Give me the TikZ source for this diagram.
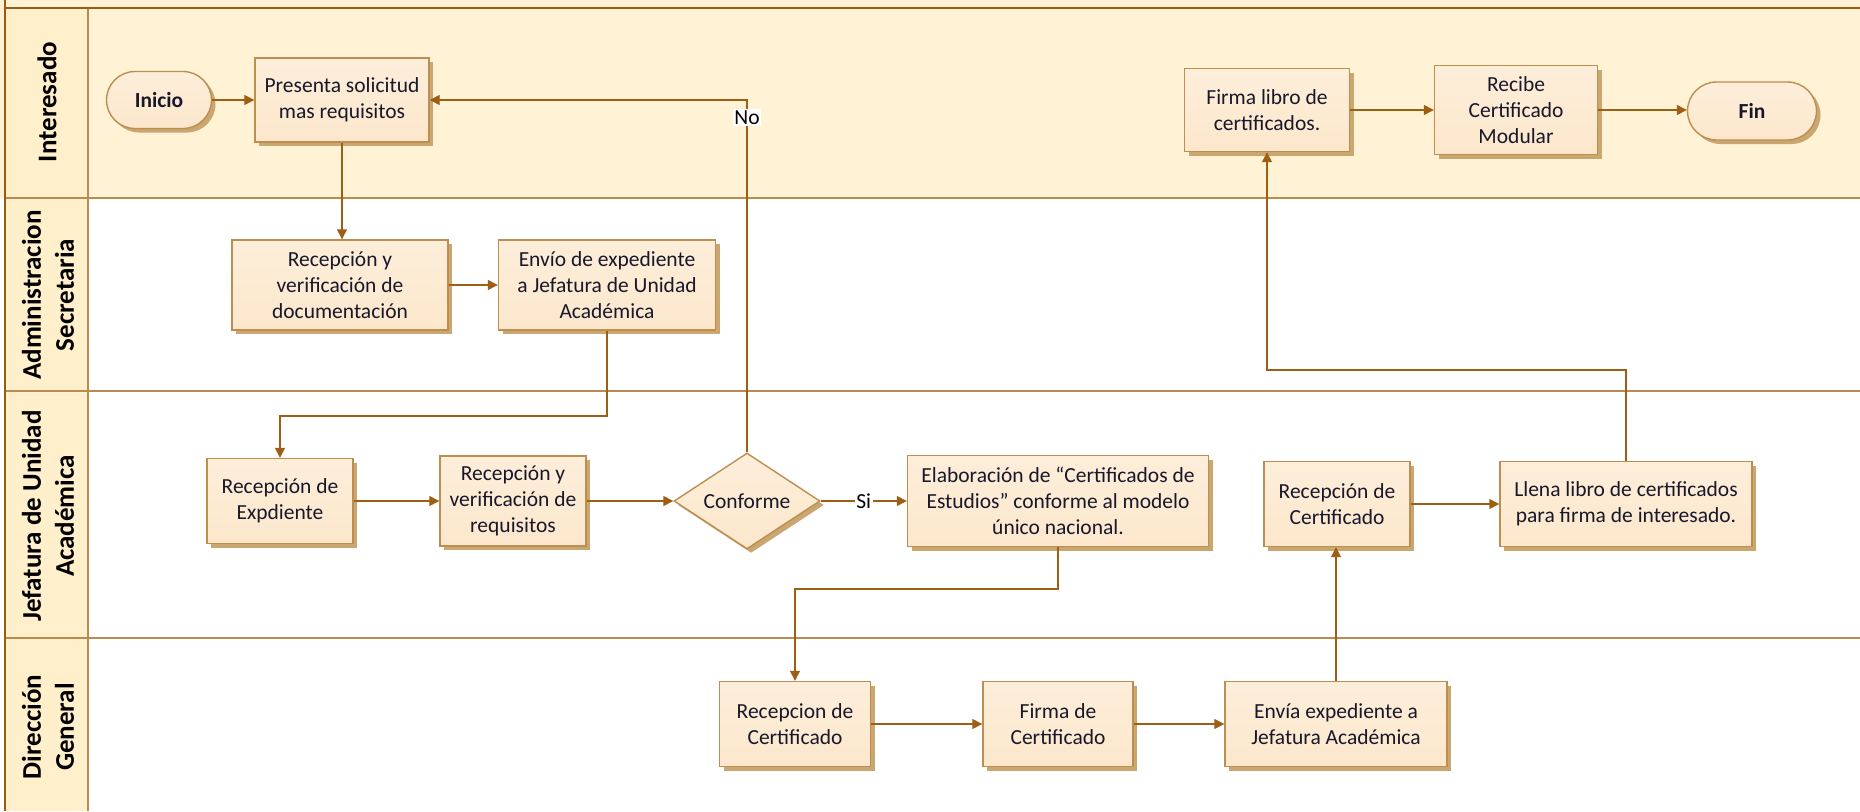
\documentclass[tikz,border=0pt]{standalone}
\usepackage{fontspec}
\setmainfont{Carlito}
\usetikzlibrary{arrows.meta,shapes.geometric,shapes.misc,shadows}
\definecolor{lanefill}{HTML}{FFF2D5}
\definecolor{headfill}{HTML}{FFEFCA}
\definecolor{laneline}{HTML}{BA8B50}
\definecolor{topline}{HTML}{9C5B12}
\definecolor{boxtop}{HTML}{FDEEDA}
\definecolor{boxbot}{HTML}{FCE7CC}
\definecolor{boxline}{HTML}{BC8E50}
\definecolor{shadowc}{HTML}{CAA671}
\definecolor{arrowc}{HTML}{9E5F14}
\definecolor{txt}{HTML}{18182A}
\newcommand{\boxfont}{\fontsize{21.5}{26}\selectfont}
\newcommand{\headfont}{\fontsize{27}{33}\selectfont\bfseries}
\tikzset{
  shad/.style={drop shadow={shadow xshift=4pt,shadow yshift=-4pt,fill=shadowc,opacity=1}},
  proc/.style={rectangle, draw=boxline, line width=1.4pt, top color=boxtop, bottom color=boxbot,
    align=center, text=txt, inner sep=2pt, font=\boxfont, shad},
  term/.style={rounded rectangle, draw=boxline, line width=1.4pt, top color=boxtop, bottom color=boxbot,
    align=center, text=txt, inner sep=2pt, font=\boxfont\bfseries, shad},
  dec/.style={diamond, shape aspect=1.52, draw=boxline, line width=1.4pt, top color=boxtop, bottom color=boxbot,
    align=center, text=txt, inner sep=0pt, font=\boxfont, minimum width=146pt, minimum height=96pt, shad},
  arr/.style={draw=arrowc, line width=1.3pt, -{Triangle[length=10pt,width=10pt]}},
  lbl/.style={fill=white, inner sep=1.5pt, font=\boxfont, text=black},
  lanehead/.style={rotate=90, align=center, font=\headfont, text=black},
  lane/.style={draw=laneline, line width=1.2pt}
}
\begin{document}
\begin{tikzpicture}[x=1pt,y=-1pt]
\useasboundingbox (0,0) rectangle (1860,811);
% lanes
\fill[lanefill] (0,0) rectangle (1860,198);
\fill[headfill] (5,8) rectangle (88,811);
\draw[lane] (5,198) -- (1860,198);
\draw[lane] (5,391) -- (1860,391);
\draw[lane] (5,638) -- (1860,638);
\draw[lane] (88,8) -- (88,811);
\draw[draw=topline, line width=1.8pt] (5,8) -- (1860,8);
\draw[draw=topline, line width=1.4pt] (5,0) -- (5,811);
% lane headers
\node[lanehead] (h1) at (47,102) {Interesado};
\node[lanehead] (h2) at (48,295) {Administracion\\Secretaria};
\node[lanehead] (h3) at (48,516) {Jefatura de Unidad\\Académica};
\node[lanehead] (h4) at (48,727) {Dirección\\General};
% nodes
\node[term, minimum width=109pt, minimum height=57pt] (inicio) at (159,100) {Inicio};
\node[proc, minimum width=174pt, minimum height=84pt] (presenta) at (342,100) {Presenta solicitud\\mas requisitos};
\node[proc, minimum width=165pt, minimum height=83pt] (firmalibro) at (1267,110) {Firma libro de\\certificados.};
\node[proc, minimum width=163pt, minimum height=89pt] (recibe) at (1516,110) {Recibe\\Certificado\\Modular};
\node[term, minimum width=133pt, minimum height=58pt] (fin) at (1752,111) {Fin};
\node[proc, minimum width=216pt, minimum height=90pt] (recdoc) at (340,285) {Recepción y\\verificación de\\documentación};
\node[proc, minimum width=217pt, minimum height=90pt] (envio) at (607,285) {Envío de expediente\\a Jefatura de Unidad\\Académica};
\node[proc, minimum width=146pt, minimum height=85pt] (recexp) at (280,501) {Recepción de\\Expdiente};
\node[proc, minimum width=146pt, minimum height=90pt] (recreq) at (513,501) {Recepción y\\verificación de\\requisitos};
\node[dec] (conf) at (747,501) {Conforme};
\node[proc, minimum width=301pt, minimum height=91pt] (elab) at (1058,501) {Elaboración de “Certificados de\\Estudios” conforme al modelo\\único nacional.};
\node[proc, minimum width=146pt, minimum height=85pt] (reccertj) at (1337,504) {Recepción de\\Certificado};
\node[proc, minimum width=252pt, minimum height=85pt] (llena) at (1626,504) {Llena libro de certificados\\para firma de interesado.};
\node[proc, minimum width=151pt, minimum height=85pt] (reccertd) at (795,724) {Recepcion de\\Certificado};
\node[proc, minimum width=150pt, minimum height=85pt] (firmacert) at (1058,724) {Firma de\\Certificado};
\node[proc, minimum width=222pt, minimum height=85pt] (envia) at (1336,724) {Envía expediente a\\Jefatura Académica};
% junction coordinates
\coordinate (j1) at (450,416);
\coordinate (j2) at (950,589);
\coordinate (j3) at (1450,370);
% connectors
\draw[arr] (inicio.east) -- (presenta.west);
\draw[arr] (presenta.south) -- (presenta.south |- recdoc.north);
\draw[arr] (recdoc.east) -- (envio.west);
\draw[arr] (envio.south) |- (j1) -| (recexp.north);
\draw[arr] (recexp.east) -- (recreq.west);
\draw[arr] (recreq.east) -- (conf.west);
\draw[arr] (conf.east) -- node[lbl] {Si} (elab.west);
\draw[arr] (conf.north) |- node[lbl, pos=0.4745] {No} (presenta.east);
\draw[arr] (elab.south) |- (j2) -| (reccertd.north);
\draw[arr] (reccertd.east) -- (firmacert.west);
\draw[arr] (firmacert.east) -- (envia.west);
\draw[arr] (envia.north) -- (envia.north |- reccertj.south);
\draw[arr] (reccertj.east) -- (llena.west);
\draw[arr] (llena.north) |- (j3) -| (firmalibro.south);
\draw[arr] (firmalibro.east) -- (recibe.west);
\draw[arr] (recibe.east) -- (recibe.east -| fin.west);
\end{tikzpicture}
\end{document}
